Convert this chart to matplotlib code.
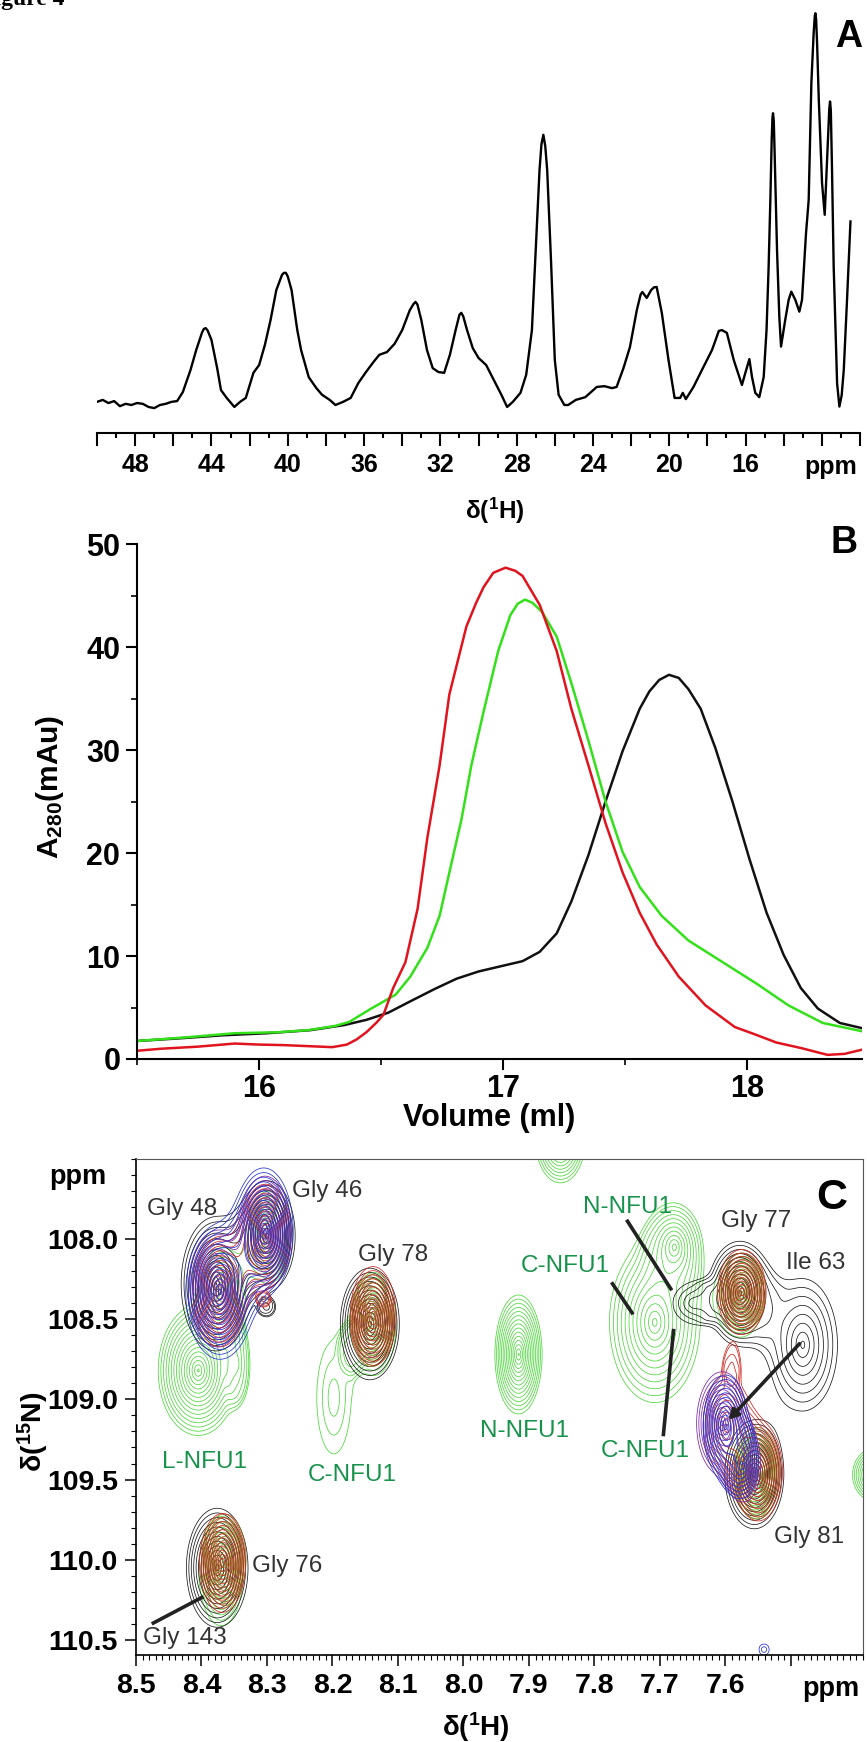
import matplotlib
matplotlib.use('Agg')
import matplotlib.pyplot as plt
from matplotlib.ticker import MultipleLocator
import numpy as np

plt.rcParams['font.family'] = ['Liberation Sans', 'DejaVu Sans']
plt.rcParams['font.weight'] = 'bold'
plt.rcParams['mathtext.fontset'] = 'custom'
plt.rcParams['mathtext.rm'] = 'Liberation Sans'
plt.rcParams['mathtext.bf'] = 'Liberation Sans:bold'
plt.rcParams['mathtext.it'] = 'Liberation Sans:italic'

# ---------------- panel A : 1D 1H spectrum (ppm, relative intensity)
a_ppm = [50.0, 49.7, 49.4, 49.1, 48.8, 48.5, 48.2, 47.9, 47.6, 47.3, 47.0, 46.7, 46.4, 46.1,
         45.8, 45.5, 45.1, 44.8, 44.5, 44.4, 44.3, 44.2, 44.0, 43.7, 43.5, 43.2, 42.8, 42.5,
         42.2, 41.8, 41.5, 41.2, 40.9, 40.6, 40.3, 40.2, 40.1, 40.0, 39.8, 39.5, 39.3, 38.9,
         38.5, 38.2, 37.8, 37.5, 37.1, 36.7, 36.3, 35.9, 35.5, 35.2, 34.8, 34.4, 34.0, 33.6,
         33.4, 33.3, 33.2, 33.0, 32.7, 32.4, 32.1, 31.8, 31.5, 31.2, 31.0, 30.9, 30.8, 30.6,
         30.3, 30.0, 29.6, 29.2, 28.8, 28.5, 28.2, 27.8, 27.5, 27.2, 27.0, 26.8, 26.7, 26.6,
         26.5, 26.4, 26.2, 26.0, 25.8, 25.5, 25.3, 24.9, 24.4, 24.1, 23.8, 23.4, 23.0, 22.76,
         22.4, 22.06, 21.7, 21.5, 21.41, 21.18, 20.95, 20.8, 20.66, 20.39, 20.04, 19.72,
         19.43, 19.29, 19.13, 18.73, 18.29, 17.76, 17.4, 17.24, 16.98, 16.62, 16.19, 16.01,
         15.80, 15.66, 15.49, 15.28, 15.05, 14.90, 14.79, 14.70, 14.63, 14.59, 14.56, 14.52,
         14.48, 14.35, 14.23, 14.14, 13.92, 13.74, 13.60, 13.39, 13.18, 13.04, 12.83, 12.69,
         12.55, 12.43, 12.37, 12.34, 12.30, 12.25, 12.16, 11.99, 11.85, 11.67, 11.61, 11.57,
         11.53, 11.47, 11.38, 11.20, 11.08, 10.96, 10.85, 10.68, 10.50]
a_int = [0.8, 1.3, 0.5, 1.0, -0.3, 0.3, 0.0, 0.5, 0.3, -0.5, -0.8, 0.0, 0.3, 0.8,
         1.0, 3.3, 8.9, 14.0, 18.4, 19.4, 19.6, 19.0, 16.6, 9.4, 3.8, 1.8, -0.5, 0.8,
         1.8, 8.2, 10.2, 15.3, 21.7, 29.3, 33.2, 33.7, 33.7, 32.8, 29.3, 19.1, 14.0, 7.1,
         4.3, 2.6, 1.3, 0.0, 0.8, 1.8, 5.6, 8.4, 11.0, 12.8, 13.5, 15.6, 19.1, 24.2,
         25.8, 26.3, 25.6, 21.7, 14.0, 9.4, 8.4, 8.2, 12.8, 19.1, 23.0, 23.5, 22.6, 19.1,
         14.5, 12.0, 10.2, 6.4, 2.6, -0.5, 0.8, 3.1, 7.7, 19.1, 39.5, 60.0, 66.5, 68.9,
         66.0, 60.0, 37.0, 11.5, 2.6, 0.0, 0.0, 1.3, 2.0, 3.3, 4.6, 4.8, 4.3, 4.6,
         9.4, 14.8, 24.2, 28.2, 28.8, 27.3, 29.3, 30.0, 30.1, 23.5, 11.5, 1.8,
         1.8, 3.1, 1.5, 4.6, 8.9, 14.0, 18.9, 19.1, 18.4, 11.5, 5.1, 8.2,
         11.7, 7.1, 3.1, 2.0, 7.1, 19.1, 35.3, 52.3, 67.6, 73.2, 74.4, 72.4,
         65.1, 39.5, 22.5, 14.9, 21.7, 26.8, 28.9, 26.8, 23.8, 26.8, 43.8, 52.3,
         82.1, 94.8, 99.2, 99.9, 98.4, 92.3, 77.8, 56.6, 48.5, 69.3, 75.6, 77.4,
         75.2, 60.8, 35.3, 5.5, -0.4, 2.5, 9.0, 26.8, 46.8]
a_ticks = np.arange(10, 51, 2)
a_ticklabels = [str(t) if (t % 4 == 0 and 16 <= t <= 48) else '' for t in a_ticks]

# ---------------- panel B : SEC traces (volume ml, A280 mAu)
b_vol_black = [15.50, 15.67, 15.85, 16.03, 16.21, 16.35, 16.44, 16.53, 16.62, 16.72, 16.81,
               16.90, 16.99, 17.08, 17.15, 17.22, 17.28, 17.35, 17.42, 17.49, 17.56, 17.60,
               17.64, 17.68, 17.72, 17.76, 17.81, 17.87, 17.94, 18.01, 18.08, 18.15, 18.22,
               18.29, 18.38, 18.47]
b_abs_black = [1.75, 2.0, 2.3, 2.5, 2.8, 3.3, 3.8, 4.5, 5.6, 6.8, 7.8,
               8.5, 9.0, 9.5, 10.4, 12.2, 15.3, 19.8, 25.0, 29.9, 34.0, 35.7,
               36.8, 37.3, 37.0, 35.9, 34.0, 30.2, 25.0, 19.4, 14.2, 10.1, 6.9,
               4.9, 3.5, 3.0]
b_vol_red = [15.50, 15.60, 15.75, 15.90, 16.00, 16.10, 16.20, 16.30, 16.36, 16.40, 16.44,
             16.48, 16.51, 16.55, 16.60, 16.65, 16.69, 16.74, 16.78, 16.85, 16.89, 16.92,
             16.96, 17.01, 17.05, 17.08, 17.15, 17.22, 17.28, 17.35, 17.42, 17.49, 17.56,
             17.63, 17.72, 17.83, 17.95, 18.02, 18.12, 18.22, 18.33, 18.40, 18.47]
b_abs_red = [0.8, 1.0, 1.2, 1.5, 1.4, 1.35, 1.25, 1.15, 1.4, 1.9, 2.6,
             3.5, 4.3, 6.9, 9.4, 14.6, 21.5, 28.5, 35.4, 42.0, 44.3, 45.8,
             47.2, 47.7, 47.4, 46.9, 44.1, 39.6, 34.0, 28.5, 22.9, 18.1, 14.2,
             11.1, 8.0, 5.2, 3.1, 2.5, 1.6, 1.07, 0.4, 0.5, 0.9]
b_vol_green = [15.50, 15.70, 15.90, 16.08, 16.20, 16.31, 16.37, 16.46, 16.56, 16.62, 16.69,
               16.74, 16.78, 16.83, 16.87, 16.92, 16.98, 17.03, 17.06, 17.09, 17.12, 17.16,
               17.22, 17.28, 17.35, 17.42, 17.49, 17.56, 17.65, 17.76, 17.90, 18.04, 18.17,
               18.31, 18.47]
b_abs_green = [1.75, 2.1, 2.5, 2.6, 2.8, 3.2, 3.6, 4.9, 6.25, 8.0, 10.8,
               13.9, 18.1, 23.3, 28.5, 33.7, 39.6, 43.1, 44.2, 44.6, 44.3, 43.4,
               41.0, 36.5, 30.9, 25.0, 20.1, 16.7, 13.9, 11.5, 9.4, 7.3, 5.2,
               3.5, 2.7]

# ---------------- panel C : 1H-15N HSQC overlay, peak list per spectrum
# centre (H, N), half extent of the outermost contour (H, N), height
pk_spec = ['blue', 'purple', 'black', 'red', 'green',
           'blue', 'purple', 'black', 'black', 'red', 'red', 'green',
           'green', 'green',
           'black', 'red', 'olive', 'green',
           'green', 'green',
           'green', 'green', 'green', 'green',
           'black',
           'black', 'red', 'olive', 'green', 'red',
           'black',
           'blue', 'purple', 'red',
           'black', 'red', 'olive', 'green', 'purple', 'blue',
           'black', 'red', 'olive', 'green',
           'green', 'blue']
pk_h = [8.372, 8.376, 8.378, 8.372, 8.368,
        8.305, 8.303, 8.300, 8.300, 8.302, 8.305, 8.298,
        8.405, 8.345,
        8.143, 8.138, 8.140, 8.137,
        8.198, 8.170,
        7.916, 7.852, 7.678, 7.708,
        7.650,
        7.578, 7.575, 7.574, 7.577, 7.590,
        7.482,
        7.600, 7.605, 7.598,
        7.556, 7.550, 7.552, 7.555, 7.572, 7.575,
        8.376, 8.368, 8.365, 8.370,
        7.370, 7.541]
pk_n = [108.33, 108.31, 108.28, 108.33, 108.34,
        107.95, 107.96, 107.98, 108.43, 107.98, 108.38, 107.99,
        108.82, 108.78,
        108.53, 108.48, 108.51, 108.53,
        108.99, 108.68,
        108.72, 107.38, 108.05, 108.52,
        108.40,
        108.34, 108.33, 108.33, 108.35, 108.78,
        108.66,
        109.17, 109.15, 109.16,
        109.47, 109.45, 109.46, 109.48, 109.42, 109.40,
        110.05, 110.02, 110.00, 110.07,
        109.47, 110.56]
pk_eh = [0.052, 0.044, 0.053, 0.041, 0.033,
         0.045, 0.040, 0.043, 0.010, 0.039, 0.008, 0.033,
         0.061, 0.015,
         0.045, 0.035, 0.033, 0.034,
         0.026, 0.014,
         0.036, 0.038, 0.040, 0.069,
         0.030,
         0.049, 0.037, 0.035, 0.036, 0.010,
         0.053,
         0.034, 0.039, 0.036,
         0.045, 0.037, 0.035, 0.032, 0.025, 0.024,
         0.047, 0.035, 0.033, 0.034,
         0.036, 0.008]
pk_en = [0.420, 0.363, 0.418, 0.343, 0.287,
         0.393, 0.352, 0.343, 0.044, 0.322, 0.034, 0.287,
         0.405, 0.191,
         0.348, 0.308, 0.286, 0.321,
         0.350, 0.110,
         0.371, 0.270, 0.261, 0.500,
         0.120,
         0.326, 0.264, 0.242, 0.261, 0.096,
         0.412,
         0.322, 0.322, 0.305,
         0.337, 0.308, 0.286, 0.261, 0.215, 0.206,
         0.371, 0.308, 0.286, 0.341,
         0.169, 0.035]
pk_amp = [1.2, 1.0, 0.9, 0.8, 0.5,
          1.2, 1.0, 0.8, 0.13, 0.8, 0.12, 0.5,
          1.7, 0.15,
          1.0, 0.9, 0.9, 0.6,
          0.145, 0.10,
          1.4, 1.0, 0.6, 0.8,
          0.16,
          1.0, 0.9, 0.9, 0.6, 0.11,
          0.35,
          0.8, 0.8, 0.4,
          1.0, 0.9, 0.9, 0.6, 0.4, 0.35,
          1.0, 0.9, 0.9, 0.6,
          1.0, 0.12]
spec_order = ['green', 'black', 'olive', 'red', 'purple', 'blue']
spec_colors = {'green': '#4cd83a', 'black': '#1a1a1a', 'olive': '#8c7a1c',
               'red': '#d0261e', 'purple': '#7c22a8', 'blue': '#2232d2'}

lab_text = ['Gly 48', 'Gly 46', 'Gly 78', 'L-NFU1', 'C-NFU1', 'N-NFU1', 'N-NFU1',
            'C-NFU1', 'C-NFU1', 'Gly 77', 'Ile 63', 'Gly 81', 'Gly 76', 'Gly 143']
lab_h = [8.429, 8.208, 8.108, 8.395, 8.170, 7.907, 7.750,
         7.845, 7.723, 7.553, 7.463, 7.473, 8.269, 8.425]
lab_n = [107.81, 107.70, 108.10, 109.39, 109.47, 109.20, 107.80,
         108.17, 109.32, 107.89, 108.15, 109.86, 110.04, 110.49]
lab_green = [False, False, False, True, True, True, True,
             True, True, False, False, False, False, False]

line_h0 = [7.751, 7.774, 7.695, 8.476]
line_n0 = [107.88, 108.27, 109.23, 110.40]
line_h1 = [7.682, 7.741, 7.679, 8.397]
line_n1 = [108.32, 108.47, 108.56, 110.23]
arrow_from = (7.484, 108.64)
arrow_to = (7.598, 109.14)

c_xticks = [8.5, 8.4, 8.3, 8.2, 8.1, 8.0, 7.9, 7.8, 7.7, 7.6, 7.5]
c_xticklabels = ['8.5', '8.4', '8.3', '8.2', '8.1', '8.0', '7.9', '7.8', '7.7', '7.6', '']
c_yticks = [108.0, 108.5, 109.0, 109.5, 110.0, 110.5]

W, H = 867, 1742


def fx(px):
    return px / W


def fy(py):
    return 1 - py / H


fig = plt.figure(figsize=(W / 100, H / 100), dpi=100)
fig.text(fx(-20), fy(5), 'Figure 4', family='Liberation Serif', fontsize=17,
         weight='bold', va='baseline', ha='left')

# ---------- A
ax_a = fig.add_axes([fx(97), fy(433), fx(860 - 97), (433 - 5) / H])
ax_a.plot(a_ppm, a_int, color='black', lw=1.7)
ax_a.set_xlim(50, 10)
ax_a.set_ylim(-7.14, 102)
for s in ['left', 'top', 'right']:
    ax_a.spines[s].set_visible(False)
ax_a.spines['bottom'].set_linewidth(1.5)
ax_a.set_yticks([])
ax_a.set_xticks(a_ticks)
ax_a.set_xticklabels(a_ticklabels)
ax_a.xaxis.set_minor_locator(MultipleLocator(1))
ax_a.tick_params(axis='x', which='major', direction='out', length=9.5, width=1.5,
                 labelsize=18, pad=5)
ax_a.tick_params(axis='x', which='minor', direction='out', length=3.8, width=1.5)
fig.text(fx(831), fy(467), 'ppm', fontsize=18, ha='center', va='center')
fig.text(fx(495), fy(511), r'$\mathrm{\delta(^{1}}\mathbf{H}\mathrm{)}$', fontsize=17.5,
         ha='center', va='center')
fig.text(fx(849), fy(37), 'A', fontsize=27, ha='center', va='center')

# ---------- B
ax_b = fig.add_axes([fx(137), fy(1059), fx(862 - 137), (1059 - 544) / H])
ax_b.plot(b_vol_black, b_abs_black, color='#111111', lw=1.8)
ax_b.plot(b_vol_green, b_abs_green, color='#33e01a', lw=1.8)
ax_b.plot(b_vol_red, b_abs_red, color='#e0141e', lw=1.8)
ax_b.set_xlim(15.5, 18.471)
ax_b.set_ylim(0, 50)
ax_b.spines['top'].set_visible(False)
ax_b.spines['right'].set_visible(False)
for s in ['left', 'bottom']:
    ax_b.spines[s].set_linewidth(1.5)
ax_b.xaxis.set_major_locator(MultipleLocator(1))
ax_b.xaxis.set_minor_locator(MultipleLocator(0.5))
ax_b.yaxis.set_major_locator(MultipleLocator(10))
ax_b.yaxis.set_minor_locator(MultipleLocator(5))
ax_b.tick_params(which='major', direction='out', length=8, width=1.5, labelsize=22)
ax_b.tick_params(which='minor', direction='out', length=4.5, width=1.2)
ax_b.tick_params(axis='y', which='major', pad=4)
ax_b.tick_params(axis='x', which='major', pad=3)
fig.text(fx(50), fy(787), r'$\mathbf{A_{280}(mAu)}$', fontsize=21.5, rotation=90,
         ha='center', va='center')
fig.text(fx(489), fy(1118), 'Volume (ml)', fontsize=22, ha='center', va='center')
fig.text(fx(844), fy(543), 'B', fontsize=27, ha='center', va='center')

# ---------- C
ax_c = fig.add_axes([fx(136), fy(1655), fx(863 - 136), (1655 - 1158.5) / H])
gh, gn = np.meshgrid(np.linspace(7.30, 8.56, 560), np.linspace(107.15, 110.75, 760))
low = 0.08
levels = low * 1.22 ** np.arange(16)
for spec in spec_order:
    z = np.zeros_like(gh)
    for s, h0, n0, eh, en, amp in zip(pk_spec, pk_h, pk_n, pk_eh, pk_en, pk_amp):
        if s == spec:
            k = np.log(amp / low)
            r = np.sqrt(((gh - h0) / eh) ** 2 + ((gn - n0) / en) ** 2)
            # cone-shaped peak (evenly spaced contours), fast fall-off outside
            z += amp * np.exp(-k * r - 3.0 * np.clip(r - 1, 0, None) ** 2)
    ax_c.contour(gh, gn, z, levels=levels, colors=spec_colors[spec], linewidths=0.55)

for t, h0, n0, g in zip(lab_text, lab_h, lab_n, lab_green):
    ax_c.text(h0, n0, t, fontsize=17.5, weight='normal', ha='center', va='center',
              color='#17924a' if g else '#333333')
for h0, n0, h1, n1 in zip(line_h0, line_n0, line_h1, line_n1):
    ax_c.plot([h0, h1], [n0, n1], color='#222222', lw=2.6, solid_capstyle='butt')
ax_c.annotate('', xy=arrow_to, xytext=arrow_from,
              arrowprops=dict(arrowstyle='-|>,head_length=0.55,head_width=0.3',
                              color='#222222', lw=2.6))

ax_c.set_xlim(8.5, 7.39)
ax_c.set_ylim(110.594, 107.498)
ax_c.spines['left'].set_linewidth(1.2)
ax_c.spines['bottom'].set_linewidth(1.2)
for s in ['top', 'right']:
    ax_c.spines[s].set_color('#555555')
    ax_c.spines[s].set_linewidth(0.8)
ax_c.set_xticks(c_xticks)
ax_c.set_xticklabels(c_xticklabels)
ax_c.set_yticks(c_yticks)
ax_c.set_yticklabels(['%.1f' % v for v in c_yticks])
ax_c.xaxis.set_minor_locator(MultipleLocator(0.01))
ax_c.yaxis.set_minor_locator(MultipleLocator(0.1))
ax_c.tick_params(which='major', direction='out', length=8, width=1.1, labelsize=20.5, pad=5)
ax_c.tick_params(which='minor', direction='out', length=3.5, width=0.8)
fig.text(fx(78), fy(1177), 'ppm', fontsize=19.5, ha='center', va='center')
fig.text(fx(859), fy(1689), 'ppm', fontsize=19.5, ha='right', va='center')
fig.text(fx(33), fy(1432), r'$\mathrm{\delta(^{15}}\mathbf{N}\mathrm{)}$', fontsize=20.5,
         rotation=90, ha='center', va='center')
fig.text(fx(476), fy(1727), r'$\mathrm{\delta(^{1}}\mathbf{H}\mathrm{)}$', fontsize=20,
         ha='center', va='center')
fig.text(fx(832), fy(1198), 'C', fontsize=31, ha='center', va='center')

fig.savefig('out.png', dpi=100)
